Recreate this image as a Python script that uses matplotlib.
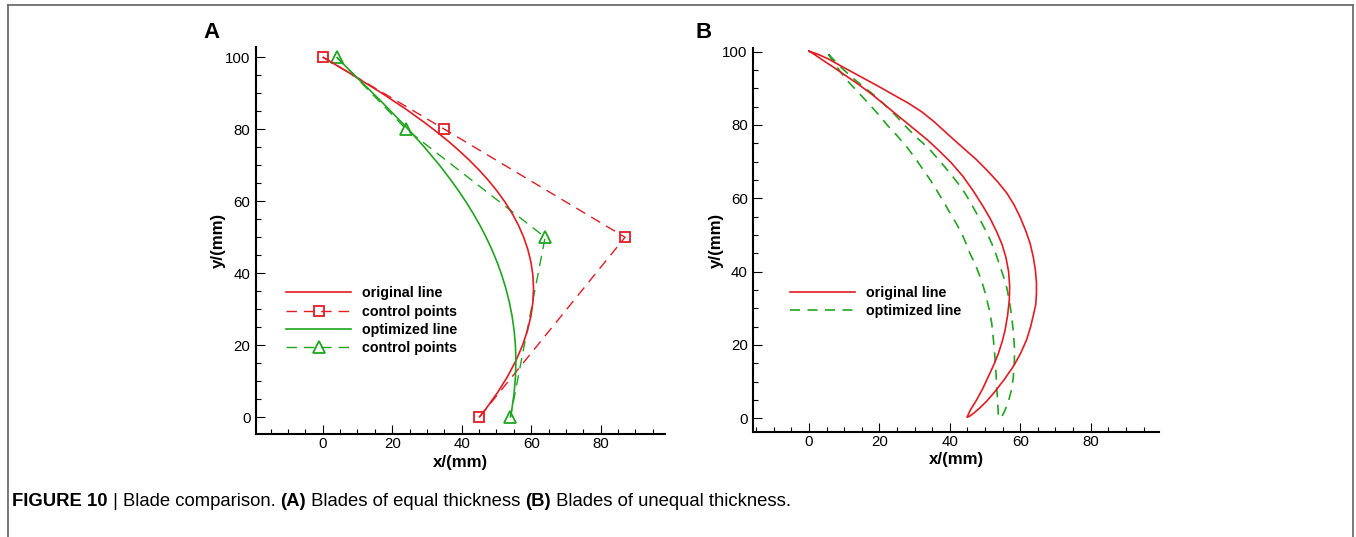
import matplotlib
matplotlib.use("Agg")
import matplotlib.pyplot as plt
from matplotlib.path import Path
from matplotlib.patches import PathPatch
from matplotlib.lines import Line2D
from matplotlib.ticker import MultipleLocator

plt.rcParams['font.family'] = ['Liberation Sans', 'DejaVu Sans']

RED = '#e31b23'
GREEN = '#1fa51f'

# ---------------- data ----------------
# Panel A: Bezier control points
orig_ctrl_x = [0, 35, 87, 45]
orig_ctrl_y = [100, 80, 50, 0]
opt_ctrl_x = [4, 24, 64, 54]
opt_ctrl_y = [100, 80, 50, 0]

# Panel B: blade outlines (closed loops)
blade_orig_x = [0.0, 2.5, 5.5, 10.0, 15.0, 19.8, 24.4, 28.3, 32.0, 35.4, 38.6, 41.6, 44.3,
                47.5, 50.5, 53.5, 56.2, 58.2, 59.9, 61.5, 62.8, 63.7, 64.3, 64.6, 64.6,
                64.4, 63.7, 62.9, 61.8, 60.1, 58.0, 55.4, 52.4, 50.4, 48.6, 46.8, 45.5, 44.9,
                45.8, 47.6, 49.3, 50.9, 52.5, 53.8, 54.9, 55.7, 56.4, 56.9, 57.0, 56.7,
                55.9, 54.8, 53.3, 51.5, 49.5, 46.8, 43.8, 40.4, 36.7, 33.8, 31.0, 27.7,
                24.4, 21.0, 17.8, 14.0, 10.2, 7.2, 4.5, 2.2, 0.5, 0.0]
blade_orig_y = [100.1, 99.3, 98.0, 95.6, 93.0, 90.5, 88.0, 85.9, 83.6, 81.0, 78.2, 75.6, 73.3,
                70.6, 67.7, 64.6, 61.4, 58.3, 55.0, 51.3, 47.7, 44.0, 40.4, 37.0, 34.0,
                31.0, 28.0, 24.8, 21.4, 17.7, 14.1, 10.5, 6.8, 4.6, 2.9, 1.4, 0.5, 0.3,
                2.2, 5.0, 8.0, 11.3, 14.6, 17.7, 21.0, 24.1, 28.0, 32.3, 36.0, 40.0,
                44.0, 47.5, 50.9, 54.4, 57.7, 61.8, 65.9, 69.7, 73.2, 75.8, 78.0, 80.6,
                83.2, 85.9, 88.4, 91.1, 93.6, 95.6, 97.3, 98.8, 99.9, 100.1]

blade_opt_x = [5.5, 8.8, 12.3, 15.4, 18.4, 21.3, 24.2, 27.1, 30.1, 32.3, 34.4, 37.3, 40.1,
               42.3, 44.3, 46.5, 48.6, 50.3, 51.9, 53.2, 54.3, 55.3, 56.2, 57.0, 57.6,
               58.1, 58.4, 58.3, 58.0, 57.5, 56.6, 55.6, 54.7, 54.2,
               53.8, 53.6, 53.3, 53.1, 52.8, 52.4, 51.9, 51.2, 50.3, 49.5, 48.6, 47.3,
               45.7, 44.6, 43.4, 41.8, 40.1, 38.4, 36.5, 34.6, 32.5, 30.2, 27.7, 25.0,
               22.2, 19.6, 16.9, 13.6, 10.5, 8.0, 5.5]
blade_opt_y = [99.3, 96.0, 92.9, 90.5, 88.2, 85.7, 83.0, 80.0, 77.0, 75.1, 73.2, 70.0, 66.8,
               64.1, 61.4, 57.8, 54.1, 51.0, 47.7, 44.5, 41.3, 38.5, 35.5, 31.5, 27.5,
               23.0, 18.5, 14.5, 11.0, 7.7, 4.5, 2.0, 0.4, 0.0,
               0.4, 4.5, 8.6, 12.7, 16.8, 21.3, 25.9, 29.6, 33.2, 36.0, 38.6, 41.8,
               45.0, 47.7, 50.4, 53.2, 55.9, 58.8, 61.8, 64.8, 67.7, 70.9, 74.1, 77.1,
               80.0, 83.0, 85.9, 89.3, 92.5, 95.7, 99.3]

legend_a_labels = ['original line', 'control points', 'optimized line', 'control points']
legend_b_labels = ['original line', 'optimized line']

# ---------------- figure ----------------
W, H = 1356, 537
fig = plt.figure(figsize=(W / 100, H / 100), dpi=100)
fig.patch.set_facecolor('white')

axA = fig.add_axes([256 / W, 1 - 434 / H, 409 / W, 387 / H])
axB = fig.add_axes([753.3 / W, 1 - 431.7 / H, 405.7 / W, 383.4 / H])


def style(ax, xlim, ylim, ylab_x):
    ax.set_xlim(*xlim)
    ax.set_ylim(*ylim)
    for s in ['top', 'right']:
        ax.spines[s].set_visible(False)
    for s in ['left', 'bottom']:
        ax.spines[s].set_linewidth(1.5)
    ax.xaxis.set_major_locator(MultipleLocator(20))
    ax.xaxis.set_minor_locator(MultipleLocator(5))
    ax.yaxis.set_major_locator(MultipleLocator(20))
    ax.yaxis.set_minor_locator(MultipleLocator(5))
    ax.tick_params(which='both', direction='in', width=0.8, colors='black')
    ax.tick_params(which='major', length=6.7, labelsize=10.8)
    ax.tick_params(axis='y', which='major', pad=4)
    ax.tick_params(axis='x', which='major', pad=2.5)
    ax.tick_params(which='minor', length=3.8)
    ax.set_xlabel('x/(mm)', fontsize=12.2, fontweight='bold')
    ax.set_ylabel('y/(mm)', fontsize=12.2, fontweight='bold')
    ax.xaxis.set_label_coords(0.5, -0.053)
    ax.yaxis.set_label_coords(ylab_x, 0.5)


style(axA, (-19.2, 98.5), (-4.6, 102.8), -0.073)
style(axB, (-15.8, 99.4), (-3.65, 100.9), -0.072)

# Panel A
dash = (7.5, 5)
axA.plot(orig_ctrl_x, orig_ctrl_y, color=RED, lw=1.0, dashes=dash,
         marker='s', ms=7, mfc='none', mec=RED, mew=1.3, clip_on=False, zorder=3)
axA.plot(opt_ctrl_x, opt_ctrl_y, color=GREEN, lw=1.0, dashes=dash,
         marker='^', ms=9, mfc='none', mec=GREEN, mew=1.3, clip_on=False, zorder=3)
codes = [Path.MOVETO, Path.CURVE4, Path.CURVE4, Path.CURVE4]
axA.add_patch(PathPatch(Path(list(zip(orig_ctrl_x, orig_ctrl_y)), codes),
                        fill=False, edgecolor=RED, lw=1.2, zorder=4))
axA.add_patch(PathPatch(Path(list(zip(opt_ctrl_x, opt_ctrl_y)), codes),
                        fill=False, edgecolor=GREEN, lw=1.2, zorder=4))

hA = [Line2D([], [], color=RED, lw=1.2),
      Line2D([], [], color=RED, lw=1.0, dashes=dash, marker='s', ms=7,
             mfc='none', mec=RED, mew=1.3),
      Line2D([], [], color=GREEN, lw=1.2),
      Line2D([], [], color=GREEN, lw=1.0, dashes=dash, marker='^', ms=9,
             mfc='none', mec=GREEN, mew=1.3)]
leg_kw = dict(loc='upper left', bbox_transform=fig.transFigure, frameon=False,
              borderpad=0, handlelength=4.55, handletextpad=0.77, labelspacing=0.3,
              borderaxespad=0, prop={'size': 10.3, 'weight': 'bold'})
axA.legend(hA, legend_a_labels, bbox_to_anchor=(286 / W, 1 - 286.5 / H), **leg_kw)

# Panel B
axB.plot(blade_orig_x, blade_orig_y, color=RED, lw=1.2, zorder=4)
axB.plot(blade_opt_x, blade_opt_y, color=GREEN, lw=1.2, dashes=(6, 4.5), zorder=3)
hB = [Line2D([], [], color=RED, lw=1.2),
      Line2D([], [], color=GREEN, lw=1.2, dashes=(6, 4.5))]
axB.legend(hB, legend_b_labels, bbox_to_anchor=(790 / W, 1 - 286 / H), **leg_kw)

# panel letters
fig.text(211.5 / W, 1 - 32 / H, 'A', fontsize=16, fontweight='bold', ha='center', va='center')
fig.text(703.5 / W, 1 - 32 / H, 'B', fontsize=16, fontweight='bold', ha='center', va='center')

# caption
cap_font = ['Liberation Sans Narrow', 'Liberation Sans', 'DejaVu Sans']
cap_size = 13.3
parts = [('FIGURE 10', 'bold'), (' | Blade comparison. ', 'normal'), ('(A)', 'bold'),
         (' Blades of equal thickness ', 'normal'), ('(B)', 'bold'),
         (' Blades of unequal thickness.', 'normal')]
prev = fig.text(12 / W, 1 - 506 / H, parts[0][0], fontsize=cap_size, fontweight=parts[0][1],
                family=cap_font, ha='left', va='baseline')
for txt, wt in parts[1:]:
    prev = axA.annotate(txt, xy=(1, 0), xycoords=prev, xytext=(0, 0),
                        textcoords='offset points', fontsize=cap_size, fontweight=wt,
                        family=cap_font, ha='left', va='bottom', annotation_clip=False)

# outer frame
fc = '#6e6e6e'
fig.add_artist(Line2D([8 / W, 8 / W], [0, 1 - 5.3 / H], transform=fig.transFigure, color=fc, lw=1.3))
fig.add_artist(Line2D([8 / W, 1353 / W], [1 - 5.3 / H, 1 - 5.3 / H], transform=fig.transFigure, color=fc, lw=1.3))
fig.add_artist(Line2D([1353 / W, 1353 / W], [0, 1 - 5.3 / H], transform=fig.transFigure, color=fc, lw=1.3))

fig.savefig('out.png', dpi=100, facecolor='white')
